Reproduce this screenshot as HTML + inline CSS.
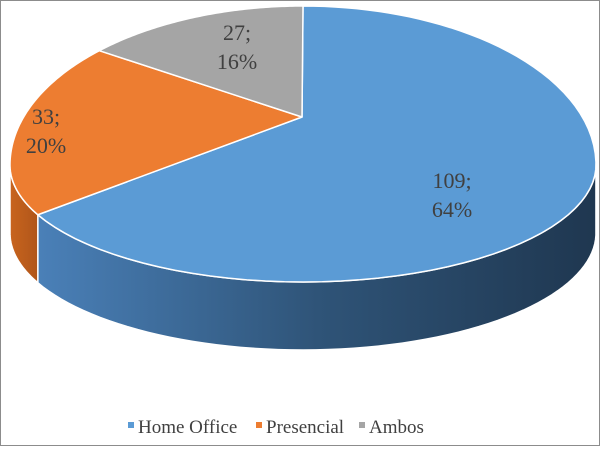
<!DOCTYPE html>
<html><head><meta charset="utf-8"><style>
body{margin:0;background:#fff;}
#wrap{position:relative;width:600px;height:446px;}
text{font-family:"Liberation Serif",serif;}
</style></head><body>
<div id="wrap">
<svg id="chart" width="600" height="446">
<defs>
<linearGradient id="gBlue" x1="0" y1="0" x2="1" y2="0">
<stop offset="0" stop-color="#4a80b8"/><stop offset="0.5" stop-color="#2f5478"/><stop offset="1" stop-color="#1f3750"/>
</linearGradient>
<linearGradient id="gOr" x1="0" y1="0" x2="1" y2="0">
<stop offset="0" stop-color="#c8641e"/><stop offset="1" stop-color="#b0561a"/>
</linearGradient>
</defs>
<rect x="0.5" y="0.5" width="599" height="445" fill="#fff" stroke="#8c8c8c"/>
<g id="slices"></g>
<g id="labels"></g>
<g id="legend"></g>
</svg>
</div>
<script>
const categories = ["Home Office","Presencial","Ambos"];
const values = [109,33,27];
const percents = ["64%","20%","16%"];
const colors = ["#5b9bd5","#ed7d31","#a5a5a5"];
const sideFills = ["url(#gBlue)","url(#gOr)","#7f7f7f"];

const NS="http://www.w3.org/2000/svg";
const cx=303, cy=165, rx=293, ryTop=159, ryBot=117, depth=68, vx=302, vy=117;
const D=Math.PI/180;
function warp(t){return t-16*D*Math.sin(t);}
function pt(t){const w=warp(t);const c=Math.cos(w);return [cx+rx*Math.sin(w), cy-(c>0?ryTop:ryBot)*c];}
const total=values.reduce((a,b)=>a+b,0);
const gS=document.getElementById('slices'), gL=document.getElementById('labels'), gLeg=document.getElementById('legend');
let acc=0; const angles=[];
values.forEach(v=>{const a0=acc/total*2*Math.PI; acc+=v; angles.push([a0, acc/total*2*Math.PI]);});
// sides: visible where warped angle is in [90,270]
angles.forEach(([a0,a1],i)=>{
  const top=[],bot=[];
  for(let k=0;k<=120;k++){
    const t=a0+(a1-a0)*k/120;const w=warp(t);
    if(w<Math.PI/2||w>3*Math.PI/2) continue;
    const p=pt(t);top.push(p);bot.push([p[0],p[1]+depth]);
  }
  if(top.length<2) return;
  const d="M"+top.map(p=>p.join(",")).join(" L")+" L"+bot.reverse().map(p=>p.join(",")).join(" L")+"Z";
  const path=document.createElementNS(NS,'path');
  path.setAttribute('d',d);path.setAttribute('fill',sideFills[i]);path.setAttribute('stroke','#fff');path.setAttribute('stroke-width','1.5');
  
  
  gS.appendChild(path);
});
// tops
angles.forEach(([a0,a1],i)=>{
  const pts=[];
  for(let k=0;k<=80;k++){pts.push(pt(a0+(a1-a0)*k/80));}
  const d="M"+vx+","+vy+" L"+pts.map(p=>p.join(",")).join(" L")+"Z";
  const path=document.createElementNS(NS,'path');
  path.setAttribute('d',d);path.setAttribute('fill',colors[i]);path.setAttribute('stroke','#fff');path.setAttribute('stroke-width','1.5');path.setAttribute('stroke-linejoin','round');
  
  
  gS.appendChild(path);
});
// labels
const labelPos=[[452,188],[46,124],[237,40]];
values.forEach((v,i)=>{
  const t=document.createElementNS(NS,'text');
  t.setAttribute('x',labelPos[i][0]);t.setAttribute('y',labelPos[i][1]);t.setAttribute('text-anchor','middle');
  t.setAttribute('font-size','22');t.setAttribute('fill','#404040');
  
  
  const s1=document.createElementNS(NS,'tspan');s1.setAttribute('x',labelPos[i][0]);s1.textContent=v+";";
  const s2=document.createElementNS(NS,'tspan');s2.setAttribute('x',labelPos[i][0]);s2.setAttribute('dy','29');s2.textContent=percents[i];
  t.appendChild(s1);t.appendChild(s2);gL.appendChild(t);
});
// legend
const legX=[128,256,359];
categories.forEach((c,i)=>{
  const g=document.createElementNS(NS,'g');
  
  
  const r=document.createElementNS(NS,'rect');
  r.setAttribute('x',legX[i]);r.setAttribute('y',422);r.setAttribute('width',6);r.setAttribute('height',6);r.setAttribute('fill',colors[i]);
  const t=document.createElementNS(NS,'text');
  t.setAttribute('x',legX[i]+10);t.setAttribute('y',433);t.setAttribute('font-size','19');t.setAttribute('fill','#404040');
  t.textContent=c;
  g.appendChild(r);g.appendChild(t);gLeg.appendChild(g);
});
</script>
</body></html>
